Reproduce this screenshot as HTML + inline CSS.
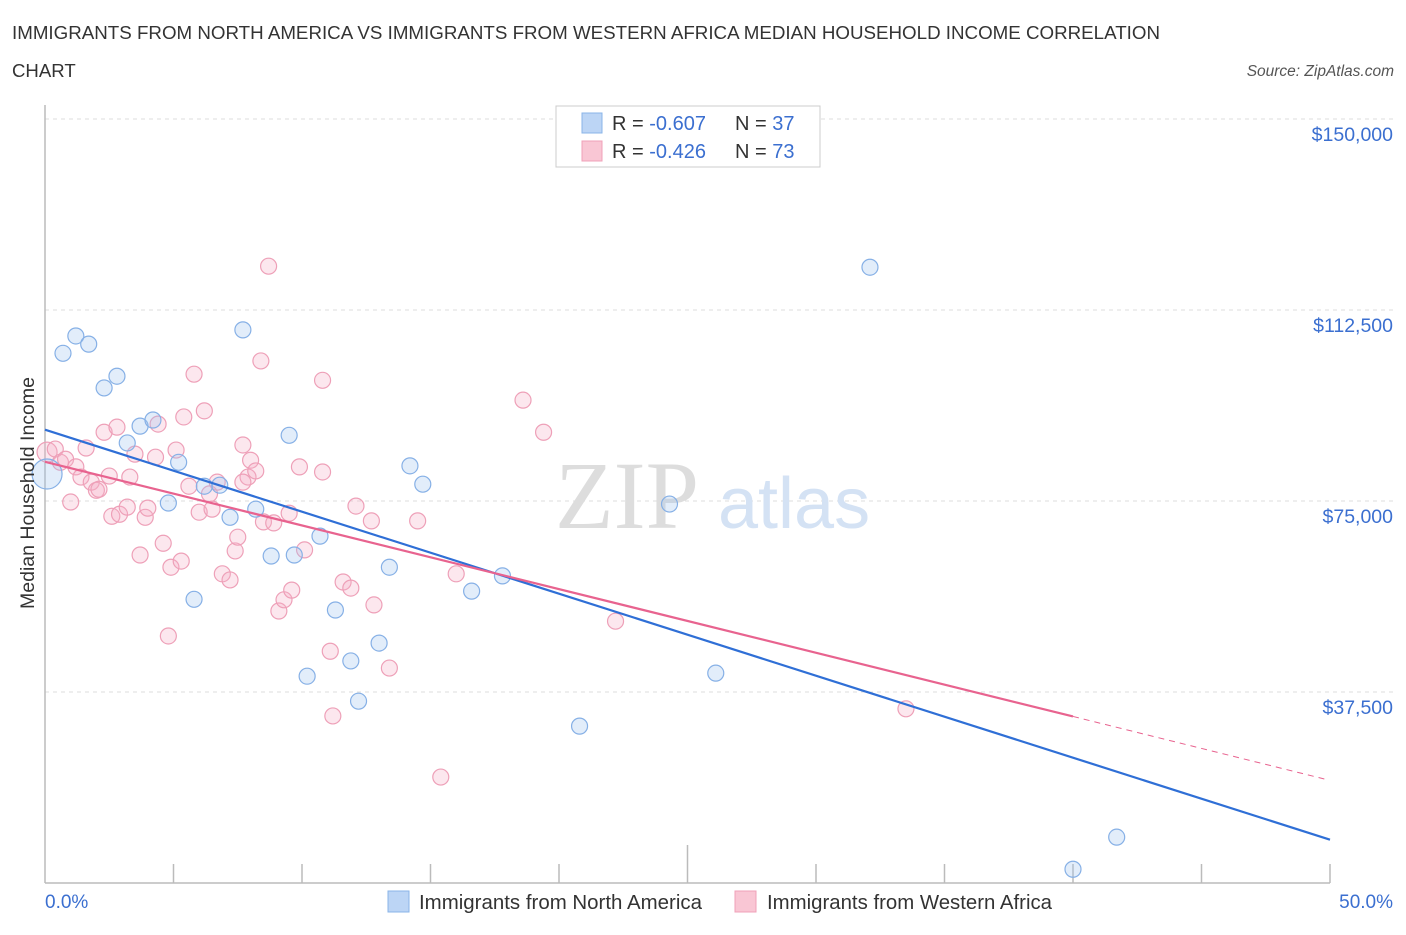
<!DOCTYPE html>
<html><head><meta charset="utf-8"><style>
body{margin:0;background:#fff;font-family:"Liberation Sans",sans-serif;}
</style></head><body>
<svg id="chart" width="1406" height="930" xmlns="http://www.w3.org/2000/svg" font-family="Liberation Sans, sans-serif">
<text x="12" y="39" font-size="18.6" fill="#333" textLength="1148" lengthAdjust="spacingAndGlyphs">IMMIGRANTS FROM NORTH AMERICA VS IMMIGRANTS FROM WESTERN AFRICA MEDIAN HOUSEHOLD INCOME CORRELATION</text>
<text x="12" y="77" font-size="18.6" fill="#333">CHART</text>
<text x="1394" y="76" font-size="15.5" fill="#555" font-style="italic" text-anchor="end">Source: ZipAtlas.com</text>
<g id="grid"></g>
<text x="555" y="528" font-size="96" fill="#ddd" font-family="Liberation Serif, serif">ZIP</text>
<text x="718" y="528" font-size="72" fill="#d4e2f4">atlas</text>
<g id="axes"></g>
<g id="pts"></g>
<g id="lines"></g>
<text transform="translate(34,493) rotate(-90)" font-size="19.5" fill="#333" text-anchor="middle">Median Household Income</text>
<text x="45" y="908" font-size="19" fill="#3b6fd0">0.0%</text>
<text x="1393" y="908" font-size="19" fill="#3b6fd0" text-anchor="end">50.0%</text>
<g>
<rect x="556" y="106" width="264" height="61" fill="#fff" stroke="#ccc"/>
<rect x="582" y="113" width="20" height="20" fill="#bcd5f5" stroke="#8ab4e8"/>
<rect x="582" y="141" width="20" height="20" fill="#f9c6d4" stroke="#f0a0b8"/>
<text x="612" y="130" font-size="20" fill="#333">R = <tspan fill="#3b6fd0">-0.607</tspan></text>
<text x="735" y="130" font-size="20" fill="#333">N = <tspan fill="#3b6fd0">37</tspan></text>
<text x="612" y="158" font-size="20" fill="#333">R = <tspan fill="#3b6fd0">-0.426</tspan></text>
<text x="735" y="158" font-size="20" fill="#333">N = <tspan fill="#3b6fd0">73</tspan></text>
</g>
<g>
<rect x="388" y="891" width="21" height="21" fill="#bcd5f5" stroke="#8ab4e8"/>
<text x="419" y="909" font-size="20" fill="#333" textLength="283" lengthAdjust="spacingAndGlyphs">Immigrants from North America</text>
<rect x="735" y="891" width="21" height="21" fill="#f9c6d4" stroke="#f0a0b8"/>
<text x="767" y="909" font-size="20" fill="#333" textLength="285" lengthAdjust="spacingAndGlyphs">Immigrants from Western Africa</text>
</g>
</svg>
<script>
const yTicks=[37500,75000,112500,150000];
const yTickLabels=["$37,500","$75,000","$112,500","$150,000"];
const blueX=[0.08,0.7,1.2,1.7,2.3,2.8,3.2,3.7,4.2,4.8,5.2,5.8,6.2,6.8,7.2,7.7,8.2,8.8,9.5,9.7,10.2,10.7,11.3,11.9,12.2,13.0,13.4,14.2,14.7,16.6,17.8,24.3,26.1,32.1,41.7,40.0,20.8];
const blueY=[80300,104000,107400,105800,97200,99500,86400,89700,90900,74600,82600,55700,77900,78100,71800,108600,73400,64200,87900,64400,40600,68100,53600,43600,35700,47100,62000,81900,78300,57300,60300,74400,41200,120900,9000,2700,30800];
const pinkX=[0.08,0.4,0.6,0.8,1.0,1.2,1.4,1.6,1.8,2.0,2.3,2.5,2.6,2.8,2.9,3.2,3.3,3.5,3.7,3.9,4.0,4.3,4.4,4.6,4.8,4.9,5.1,5.3,5.4,5.6,5.8,6.0,6.2,6.4,6.5,6.7,6.9,7.2,7.4,7.5,7.7,7.9,8.0,8.2,8.4,8.5,8.7,8.9,9.1,9.3,9.5,9.6,9.9,10.1,10.8,10.8,11.1,11.2,11.6,11.9,12.1,12.7,12.8,13.4,14.5,15.4,16.0,18.6,19.4,22.2,33.5,7.7,2.1];
const pinkY=[84600,85200,82600,83200,74800,81700,79700,85400,78700,77100,88500,79900,72000,89500,72400,73800,79700,84200,64400,71800,73600,83600,90100,66700,48500,62000,85000,63200,91500,77900,99900,72800,92700,76400,73400,78700,60700,59500,65200,67900,86000,79700,83000,80900,102500,70900,121100,70700,53400,55600,72600,57500,81700,65400,98700,80700,45500,32800,59100,57900,74000,71100,54600,42200,71100,20800,60700,94800,88500,51400,34200,78700,77300];
const blueTrend=[[0,89000],[50,8500]];
const pinkTrend=[[0,82700],[40,32700]];
const pinkDash=[[40,32700],[49.8,20400]];
const X0=45,X1=1330,Y0=883,YS=191/37500;
const sx=v=>X0+(v/50)*(X1-X0), sy=v=>Y0-v*YS;
const NS="http://www.w3.org/2000/svg";
function mk(p,t,a){const e=document.createElementNS(NS,t);for(const k in a)e.setAttribute(k,a[k]);p.appendChild(e);return e;}
const grid=document.getElementById('grid'),axes=document.getElementById('axes'),pts=document.getElementById('pts'),lines=document.getElementById('lines');
yTicks.forEach((t,i)=>{
 const l=mk(grid,'line',{x1:X0,x2:1395,y1:sy(t),y2:sy(t),stroke:'#ddd','stroke-dasharray':'4,4'});
 
 
 const tx=mk(grid,'text',{x:1393,y:sy(t)+22,'font-size':19.5,fill:'#3b6fd0','text-anchor':'end'});
 tx.textContent=yTickLabels[i];
 
 
});
const ax=mk(axes,'line',{x1:X0,x2:X1,y1:Y0,y2:Y0,stroke:'#bbb','stroke-width':1.5});


const ay=mk(axes,'line',{x1:X0,x2:X0,y1:105,y2:Y0,stroke:'#bbb','stroke-width':1.5});


for(let i=1;i<=10;i++){
 const v=i*5;
 const tk=mk(axes,'line',{x1:sx(v),x2:sx(v),y1:i==5?845:864,y2:Y0,stroke:'#bbb','stroke-width':1.5});
 
 
}
function dots(xs,ys,fill,stroke,name,r0){
 xs.forEach((x,i)=>{
  const c=mk(pts,'circle',{cx:sx(x),cy:sy(ys[i]),r:i==0?r0:8,fill:fill,stroke:stroke,'stroke-width':1.2});
  
  
 });
}
dots(pinkX,pinkY,'rgba(245,175,198,0.3)','#eea0b8','pink-point',10);
dots(blueX,blueY,'rgba(160,196,240,0.3)','#86b0e6','blue-point',15);
function ln(d,color,name,dash){
 const l=mk(lines,'line',{x1:sx(d[0][0]),y1:sy(d[0][1]),x2:sx(d[1][0]),y2:sy(d[1][1]),stroke:color,'stroke-width':dash?1:2.2});
 if(dash)l.setAttribute('stroke-dasharray','6,5');
 
 
}
ln(blueTrend,'#2f6fd6','blue-trend-line');
ln(pinkTrend,'#e8638f','pink-trend-line');
ln(pinkDash,'#e8638f','pink-trend-extension',true);
</script>
</body></html>
